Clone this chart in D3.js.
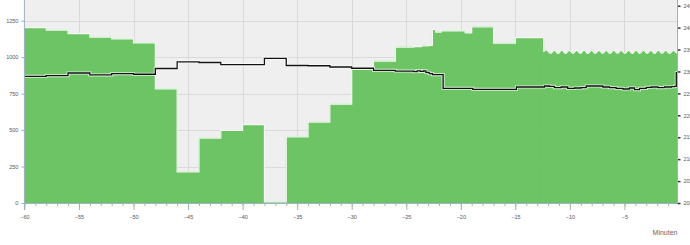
<!DOCTYPE html>
<head>
<script src="https://d3js.org/d3.v7.min.js"></script>
<meta charset="utf-8">
<style>
body { margin: 0; background: #fff; }
text { font-family: "Liberation Sans", Arial, sans-serif; }
</style>
</head>
<body>
<svg id="chart"></svg>
<script>

// chart data

// green area, left axis, step every 2 min then finer
var loadTime = [-60, -58, -56, -54, -52, -50, -48, -46, -44, -42, -40, -38, -36, -34, -32, -30, -28, -26,
                -24.3, -23.6, -23.0, -22.6, -22.3, -21.8, -19.6, -19.0, -17.0, -15.0, -12.4];
var loadValue = [1203, 1185, 1162, 1137, 1125, 1098, 783, 214, 445, 497, 538, 8, 454, 555, 678, 918, 973, 1068,
                 1072, 1078, 1080, 1190, 1172, 1180, 1166, 1207, 1096, 1134, 1038];

// wavy tail of the green area
var waveTime = [-12.4, -12.1, -11.76, -11.42, -11.08, -10.74, -10.4, -10.06, -9.72, -9.38, -9.04, -8.7,
                -8.36, -8.02, -7.68, -7.34, -7.0, -6.66, -6.32, -5.98, -5.64, -5.3, -4.96, -4.62,
                -4.28, -3.94, -3.6, -3.26, -2.92, -2.58, -2.24, -1.9, -1.56, -1.22, -0.88, -0.54, -0.2, 0];
var waveValue = [1038, 1048, 1026, 1047, 1025, 1048, 1025, 1047, 1026, 1046, 1025, 1048,
                 1025, 1047, 1026, 1046, 1025, 1047, 1025, 1048, 1026, 1047, 1025, 1046,
                 1025, 1048, 1026, 1047, 1025, 1046, 1025, 1048, 1026, 1047, 1025, 1046, 1028, 1028];

// black line, right axis
var voltTime = [-60, -58, -56, -54, -52, -50, -48, -46, -44, -42, -40, -38, -36, -34, -32, -30, -28, -26,
                -24.3, -24.0, -23.7, -23.4, -23.2, -22.9, -22.6, -21.62, -18.9, -14.9,
                -12.33, -11.88, -11.42, -10.8, -10.2, -9.58, -8.97, -8.5, -7.75, -6.98, -6.37, -5.76,
                -5.14, -4.54, -4.08, -3.62, -3.0, -2.54, -1.93, -1.32, -0.7, -0.4, -0.25, 0];
var voltValue = [228.9, 229.04, 229.65, 229.2, 229.5, 229.36, 230.68, 232.19, 232.05, 231.55, 231.55, 233.0,
                 231.36, 231.3, 231.02, 230.73, 230.27, 230.1, 229.95, 230.15, 230.0, 230.15, 229.81, 229.5,
                 229.27, 226.16, 225.93, 226.46,
                 226.69, 226.61, 226.31, 226.46, 226.16, 226.23, 226.31, 226.69, 226.69, 226.46, 226.31, 226.16,
                 226.0, 226.23, 225.85, 226.16, 226.38, 226.46, 226.31, 226.46, 226.54, 226.61, 229.73, 229.73];

var xMajor = [-60, -55, -50, -45, -40, -35, -30, -25, -20, -15, -10, -5];
var leftTicks = [0, 250, 500, 750, 1000, 1250];
var rightTicks = [200, 205, 210, 215, 220, 225, 230, 235, 240, 245];
var xTitle = "Minuten";

// chart parameters

var width = 690,
    height = 245,
    plotLeft = 24.4,
    plotRight = 677.5,
    plotTop = 0,
    plotBottom = 203;

var svg = d3.select("#chart")
    .attr("width", width)
    .attr("height", height);

var x = d3.scaleLinear().domain([-60, 0]).range([plotLeft, 679]);
var yLeft = d3.scaleLinear().domain([0, 1392]).range([plotBottom, plotTop]);
var yRight = d3.scaleLinear().domain([200, 246.3]).range([plotBottom, plotTop]);

var load = loadTime.map((t, i) => ({t: t, v: loadValue[i]}));
var wave = waveTime.map((t, i) => ({t: t, v: waveValue[i]}));
var volt = voltTime.map((t, i) => ({t: t, v: voltValue[i]}));

svg.append("defs").append("clipPath").attr("id", "plotClip")
  .append("rect")
    .attr("x", plotLeft)
    .attr("y", plotTop)
    .attr("width", plotRight - plotLeft)
    .attr("height", plotBottom - plotTop);

// plot background
svg.append("rect")
    .attr("x", plotLeft)
    .attr("y", plotTop)
    .attr("width", plotRight - plotLeft)
    .attr("height", plotBottom - plotTop)
    .attr("fill", "#efefef");

// grid
var grid = svg.append("g").attr("stroke", "#dadada").attr("stroke-width", 1);
grid.selectAll("line.v")
  .data(xMajor.slice(1))
  .join("line")
    .attr("class", "v")
    .attr("x1", d => Math.round(x(d)) + 0.5)
    .attr("x2", d => Math.round(x(d)) + 0.5)
    .attr("y1", plotTop)
    .attr("y2", plotBottom);
grid.selectAll("line.h")
  .data(leftTicks.slice(1))
  .join("line")
    .attr("class", "h")
    .attr("x1", plotLeft)
    .attr("x2", plotRight)
    .attr("y1", d => Math.round(yLeft(d)) + 0.5)
    .attr("y2", d => Math.round(yLeft(d)) + 0.5);

var plot = svg.append("g").attr("clip-path", "url(#plotClip)");

// green area
var green = "#6cc464";
var stepArea = d3.area()
    .x(d => x(d.t))
    .y0(plotBottom)
    .y1(d => yLeft(d.v))
    .curve(d3.curveStepAfter);
var waveArea = d3.area()
    .x(d => x(d.t))
    .y0(plotBottom)
    .y1(d => yLeft(d.v))
    .curve(d3.curveNatural);
var stepTop = d3.line().x(d => x(d.t)).y(d => yLeft(d.v)).curve(d3.curveStepAfter);
var waveTop = d3.line().x(d => x(d.t)).y(d => yLeft(d.v)).curve(d3.curveNatural);

plot.append("path").attr("d", stepArea(load)).attr("fill", green)
    .attr("stroke", green).attr("stroke-width", 0.8);
plot.append("path").attr("d", waveArea(wave)).attr("fill", green)
    .attr("stroke", green).attr("stroke-width", 0.8);
plot.append("path").attr("d", stepTop(load)).attr("fill", "none")
    .attr("stroke", "#fff").attr("stroke-width", 1.2).attr("stroke-opacity", 0.9);
plot.append("path").attr("d", waveTop(wave)).attr("fill", "none")
    .attr("stroke", "#fff").attr("stroke-width", 1.2).attr("stroke-opacity", 0.9);

// black line with white halo
var voltLine = d3.line()
    .x(d => x(d.t))
    .y(d => yRight(d.v))
    .curve(d3.curveStepAfter);
plot.append("path").attr("d", voltLine(volt)).attr("fill", "none")
    .attr("stroke", "#fff").attr("stroke-width", 3).attr("stroke-opacity", 0.8);
plot.append("path").attr("d", voltLine(volt)).attr("fill", "none")
    .attr("stroke", "#111").attr("stroke-width", 1.3);

// x axis
var xAxis = svg.append("g").attr("transform", "translate(0," + plotBottom + ")");
xAxis.call(d3.axisBottom(x).tickValues(d3.range(-60, 0, 1)).tickSize(3).tickFormat(""))
    .call(g => g.select(".domain").remove());
xAxis.append("g")
    .call(d3.axisBottom(x).tickValues(xMajor).tickSize(7).tickPadding(5).tickFormat(d3.format("d")))
    .call(g => g.select(".domain").remove());
xAxis.selectAll("line").attr("stroke", "#9fb0bf");
xAxis.selectAll("text").attr("font-size", 5.5).attr("fill", "#555");
xAxis.append("line")
    .attr("x1", plotLeft).attr("x2", plotRight)
    .attr("y1", 0.5).attr("y2", 0.5)
    .attr("stroke", "#9fb0bf");

// left axis
var leftAxis = svg.append("g").attr("transform", "translate(" + plotLeft + ",0)");
leftAxis.call(d3.axisLeft(yLeft).tickValues(leftTicks).tickSize(3).tickPadding(3).tickFormat(d3.format("d")))
    .call(g => g.select(".domain").remove());
leftAxis.selectAll("line").attr("stroke", "#9fb0bf");
leftAxis.selectAll("text").attr("font-size", 5.5).attr("fill", "#555");
leftAxis.append("line")
    .attr("x1", 0).attr("x2", 0)
    .attr("y1", plotTop).attr("y2", plotBottom + 7)
    .attr("stroke", "#9fb0bf");

// right axis
var rightAxis = svg.append("g").attr("transform", "translate(" + plotRight + ",0)");
rightAxis.call(d3.axisRight(yRight).tickValues(rightTicks).tickSize(3).tickPadding(3).tickFormat(d3.format("d")))
    .call(g => g.select(".domain").remove());
rightAxis.selectAll("line").attr("stroke", "#333").attr("stroke-width", 1.5);
rightAxis.selectAll("text").attr("font-size", 5.5).attr("fill", "#555");
rightAxis.append("line")
    .attr("x1", 0).attr("x2", 0)
    .attr("y1", plotTop).attr("y2", plotBottom)
    .attr("stroke", "#9fb0bf");

svg.append("text")
    .attr("x", plotRight)
    .attr("y", 235)
    .attr("text-anchor", "end")
    .attr("font-size", 7)
    .attr("fill", "#666")
    .text(xTitle);
</script>
</body>
